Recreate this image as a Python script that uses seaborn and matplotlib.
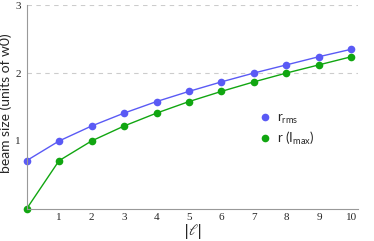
import pandas as pd
import matplotlib
matplotlib.use("Agg")
import matplotlib.pyplot as plt
import seaborn as sns

# valores
ell = [0, 1, 2, 3, 4, 5, 6, 7, 8, 9, 10]
r_rms = [0.71, 1.00, 1.22, 1.41, 1.58, 1.73, 1.87, 2.00, 2.12, 2.24, 2.35]
r_imax = [0.00, 0.71, 1.00, 1.22, 1.41, 1.58, 1.73, 1.87, 2.00, 2.12, 2.24]

blue = "#5a5af5"
green = "#11a611"

df = pd.DataFrame({"ell": ell, "rms": r_rms, "imax": r_imax})

sns.set_style("white")
plt.rcParams["font.family"] = ["Lato", "DejaVu Sans"]
plt.rcParams["mathtext.fontset"] = "custom"
plt.rcParams["mathtext.rm"] = "Lato"
plt.rcParams["mathtext.it"] = "Lato:italic"

fig = plt.figure(figsize=(3.74, 2.41), dpi=100)
ax = fig.add_axes([0.071, 0.133, 0.886, 0.846])

sns.lineplot(data=df, x="ell", y="rms", ax=ax, color=blue, lw=1.0,
             marker="o", markersize=5.5, markeredgewidth=0, clip_on=False,
             label=r"r$_{\rm rms}$")
sns.lineplot(data=df, x="ell", y="imax", ax=ax, color=green, lw=1.0,
             marker="o", markersize=5.5, markeredgewidth=0, clip_on=False,
             label=r"r (I$_{\rm max}$)")

ax.set_xlim(0, 10.2)
ax.set_ylim(0, 3)
for yv in [2, 3]:
    ax.axhline(yv, color="#cccccc", lw=0.8, ls=(0, (4, 4)), zorder=0)

ax.set_xticks(range(1, 11))
ax.set_yticks([1, 2, 3])
for lab in ax.get_xticklabels() + ax.get_yticklabels():
    lab.set_family("Liberation Serif")
    lab.set_fontsize(8)
ax.tick_params(axis="x", direction="in", length=3, width=0.6, color="#888888", pad=3)
ax.tick_params(axis="y", direction="out", length=3, width=0.6, color="#888888", pad=1)

sns.despine(ax=ax)
for s in ["left", "bottom"]:
    ax.spines[s].set_color("#999999")
    ax.spines[s].set_linewidth(0.8)

ax.set_xlabel(r"$|\ell|$", fontsize=11, labelpad=0, math_fontfamily="dejavuserif")
ax.set_ylabel("beam size (units of w0)", fontsize=10, labelpad=3)
ax.yaxis.set_label_coords(-0.045, 0.52)

ax.legend(loc="upper left", bbox_to_anchor=(0.683, 0.535), frameon=False,
          fontsize=9.5, handlelength=0, handletextpad=0.9, markerscale=1,
          labelspacing=0.3)
leg = ax.get_legend()
for h in leg.legend_handles:
    h.set_linestyle("none")

fig.savefig("out.png", dpi=100)
